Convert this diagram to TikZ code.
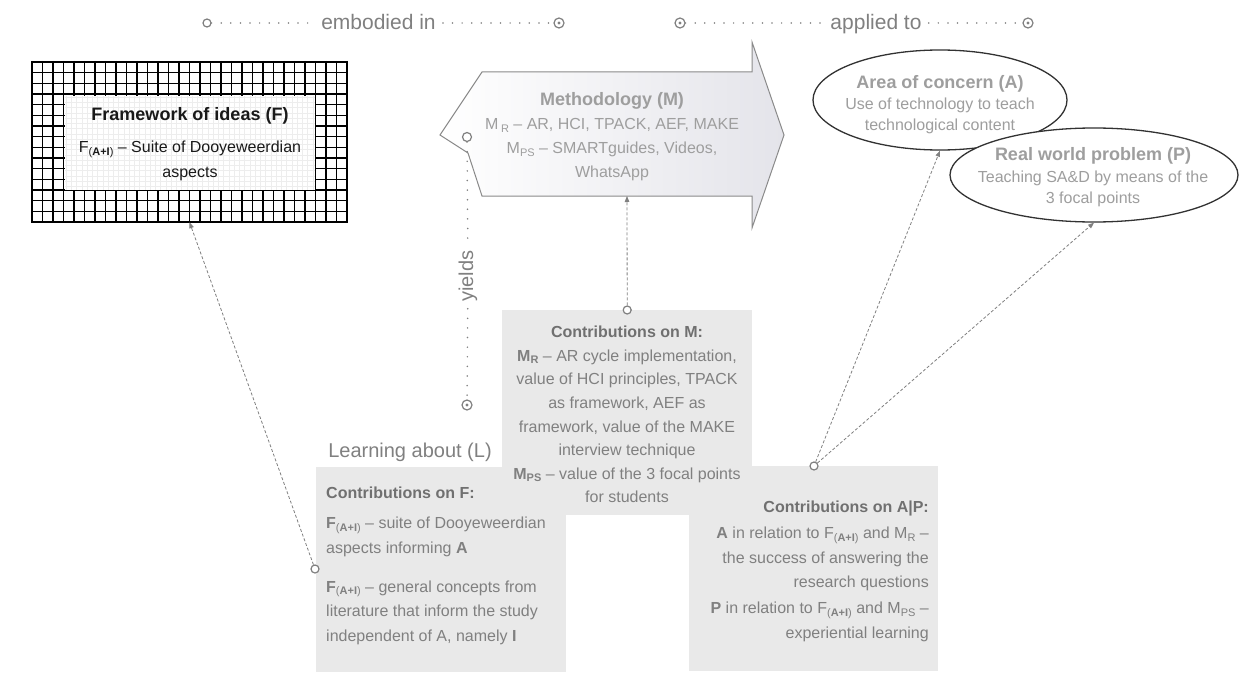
\documentclass[tikz,border=0pt]{standalone}
\usepackage{fontspec}
\setmainfont{Liberation Sans}
\usetikzlibrary{arrows.meta,shapes.geometric}

\definecolor{boxgray}{RGB}{233,233,233}
\definecolor{txtgray}{RGB}{128,128,128}
\definecolor{ttlgray}{RGB}{112,112,112}
\definecolor{palegray}{RGB}{158,158,158}
\definecolor{linegray}{RGB}{128,128,128}
\definecolor{edgegray}{RGB}{138,138,138}
\definecolor{ellipseedge}{RGB}{50,50,50}
\definecolor{lavgray}{RGB}{228,228,234}
\definecolor{inktext}{RGB}{25,25,25}

% small lowered index text such as (A+I), R, PS
\newcommand{\idx}[1]{\raisebox{-0.3ex}{\fontsize{11}{11}\selectfont #1}}

\begin{document}
\begin{tikzpicture}[x=1pt,y=-1pt,
  every node/.style={inner sep=0pt},
  dotline/.style={draw=linegray, line width=1.7pt, line cap=round, dash pattern=on 0pt off 9.6pt},
  dasharrow/.style={draw=linegray, line width=0.8pt, dash pattern=on 3pt off 2pt,
    -{Triangle[length=6pt,width=4.5pt]}},
  opencirc/.style={circle, draw=linegray, fill=white, line width=1.2pt, minimum size=8pt},
  dotcirc/.style={opencirc, minimum size=10pt,
    path picture={\fill[linegray] (path picture bounding box.center) circle[radius=1.6pt];}},
  graybox/.style={fill=boxgray, minimum width=250pt, minimum height=205pt, anchor=north west},
  bodytxt/.style={font=\fontsize{16}{24.5}\selectfont, text=txtgray},
  toplabel/.style={font=\fontsize{21}{24}\selectfont, text=linegray, inner xsep=7pt},
  ellipsebox/.style={ellipse, draw=ellipseedge, line width=1.3pt, fill=white},
  gridline/.style={draw=black, line width=1.1pt},
  faintline/.style={draw=black!7, line width=0.5pt}
]
\useasboundingbox (0,0) rectangle (1239,677);
\fill[white] (0,0) rectangle (1239,677);

% ---------- Framework of ideas: hatched grid frame ----------
\foreach \i in {0,...,30}
  \draw[gridline] ({32+\i*10.5},61) -- ({32+\i*10.5},223);
\foreach \j in {0,...,15}
  \draw[gridline] (31,{62+\j*10.6667}) -- (348,{62+\j*10.6667});
\fill[white] (65,95.5) rectangle (314.5,189.5);
\foreach \i in {0,...,47}
  \draw[faintline] ({66+\i*5.25},95.5) -- ({66+\i*5.25},189.5);
\foreach \j in {0,...,17}
  \draw[faintline] (65,{97+\j*5.25}) -- (314.5,{97+\j*5.25});
\node[minimum width=315pt, minimum height=160pt] (Fgrid) at (189.5,142) {};
\node[align=center, text=inktext, font=\fontsize{16}{25}\selectfont] (F) at (190,144.5)
  {{\fontsize{18}{25}\selectfont\bfseries Framework of ideas (F)}\\[7pt]
   F\idx{(\textbf{A+I})} – Suite of Dooyeweerdian\\
   aspects};

% ---------- Methodology arrow ----------
\draw[draw=edgegray, line width=1pt, left color=white, right color=lavgray]
  (482,72) -- (752,72) -- (752,42) -- (784,135) -- (752,228) -- (752,196)
  -- (482,196) -- (468,153) -- (440,135) -- cycle;
\coordinate (mbot) at (627,196);
\node[align=center, text=palegray, font=\fontsize{16}{24}\selectfont] (Mtxt) at (612,137)
  {{\fontsize{18}{24}\selectfont\bfseries Methodology (M)}\\
   M\,\idx{R} – AR, HCI, TPACK, AEF, MAKE\\
   M\idx{PS} – SMARTguides, Videos,\\
   WhatsApp};

% ---------- Area of concern and real world problem ----------
\node[ellipsebox, minimum width=254pt, minimum height=100pt] (A) at (940,100) {};
\node[align=center, text=palegray, font=\fontsize{16}{21}\selectfont] (Atxt) at (940,105)
  {{\fontsize{18}{21}\selectfont\bfseries Area of concern (A)}\\
   Use of technology to teach\\
   technological content};
\node[ellipsebox, minimum width=288pt, minimum height=94pt] (P) at (1094,175) {};
\node[align=center, text=palegray, font=\fontsize{16}{21.5}\selectfont] (Ptxt) at (1093,177.5)
  {{\fontsize{18}{21.5}\selectfont\bfseries Real world problem (P)}\\
   Teaching SA\&D by means of the\\
   3 focal points};

% ---------- Contribution boxes ----------
\node[graybox] (Lbox) at (316,467) {};
\node[graybox, minimum width=249pt] (APbox) at (689,466) {};
\node[graybox] (Mbox) at (502,310) {};

\node[font=\fontsize{20}{24}\selectfont, text=txtgray, anchor=base] (Ltitle) at (410,457)
  {Learning about (L)};

\node[bodytxt, align=left, anchor=north west] (Ltxt) at (326,487)
  {{\bfseries\color{ttlgray}Contributions on F:}\\[5.5pt]
   \textbf{F}\idx{(\textbf{A+I})} – suite of Dooyeweerdian\\
   aspects informing \textbf{A}\\[14.5pt]
   \textbf{F}\idx{(\textbf{A+I})} – general concepts from\\
   literature that inform the study\\
   independent of A, namely \textbf{I}};

\node[bodytxt, font=\fontsize{16}{23.6}\selectfont, align=center, anchor=north] (Mctxt) at (627,326)
  {{\bfseries\color{ttlgray}Contributions on M:}\\
   \textbf{M}\idx{\textbf{R}} – AR cycle implementation,\\
   value of HCI principles, TPACK\\
   as framework, AEF as\\
   framework, value of the MAKE\\
   interview technique\\
   \textbf{M}\idx{\textbf{PS}} – value of the 3 focal points\\
   for students};

\node[bodytxt, align=right, anchor=north east] (APtxt) at (929,501)
  {{\bfseries\color{ttlgray}Contributions on A|P:}\\[1.5pt]
   \textbf{A} in relation to F\idx{(\textbf{A+I})} and M\idx{R} –\\
   the success of answering the\\
   research questions\\[1.5pt]
   \textbf{P} in relation to F\idx{(\textbf{A+I})} and M\idx{PS} –\\
   experiential learning};

% ---------- top relations ----------
\node[opencirc] (e1) at (207,23) {};
\node[toplabel, anchor=base] (etxt) at (378.5,30) {embodied in};
\node[dotcirc] (e2) at (559,23) {};
\draw[dotline] (e1) -- (etxt.west |- e1);
\draw[dotline] (etxt.east |- e2) -- (e2);

\node[dotcirc] (a1) at (680,23) {};
\node[toplabel, anchor=base] (atxt) at (876,30) {applied to};
\node[dotcirc] (a2) at (1028,23) {};
\draw[dotline] (a1) -- (atxt.west |- a1);
\draw[dotline] (atxt.east |- a2) -- (a2);

% ---------- yields ----------
\node[opencirc, minimum size=9pt] (y1) at (467,137) {};
\node[font=\fontsize{20}{24}\selectfont, text=linegray, rotate=90, inner xsep=7pt] (ytxt) at (468,276) {yields};
\node[dotcirc] (y2) at (467,405) {};
\draw[dotline] (y1) -- (ytxt);
\draw[dotline] (ytxt) -- (y2);

% ---------- contribution connectors ----------
\node[opencirc] (fc) at (315,569) {};
\draw[dasharrow] (fc) -- (Fgrid.south);

\node[opencirc] (mc) at (Mbox.north) {};
\draw[dasharrow] (mc) -- (mbot);

\node[opencirc] (pc) at (814,466) {};
\draw[dasharrow] (pc) -- (A.south);
\draw[dasharrow] (pc) -- (P.south);
\end{tikzpicture}
\end{document}
